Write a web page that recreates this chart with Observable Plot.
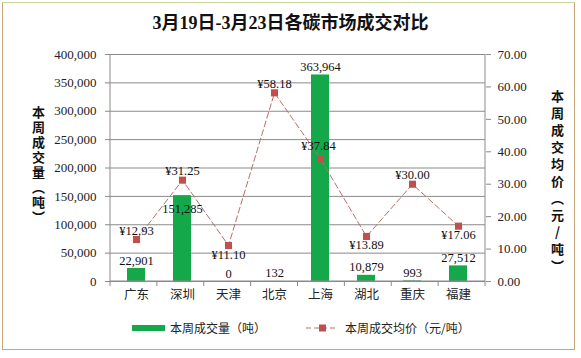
<!DOCTYPE html>
<html><head><meta charset="utf-8">
<script src="https://cdn.jsdelivr.net/npm/d3@7"></script>
<script src="https://cdn.jsdelivr.net/npm/@observablehq/plot@0.6"></script>
<style>
body{margin:0;background:#fff;}
#wrap{position:relative;width:581px;height:358px;overflow:hidden;background:#fff;font-family:"Noto Sans CJK SC",sans-serif;}
#frame{position:absolute;left:2px;top:2px;width:573px;height:348px;border:1.5px solid #c9a678;border-top-color:#c8d59c;box-sizing:border-box;}
#title{position:absolute;left:0;top:8px;width:581px;text-align:center;font:bold 18px "Liberation Serif","Noto Sans CJK SC",serif;color:#111;}
.vlab{position:absolute;writing-mode:vertical-rl;text-orientation:upright;font:bold 13px "Noto Sans CJK SC",sans-serif;color:#111;line-height:13px;}
#plot{position:absolute;left:0;top:40px;}
.leg{position:absolute;font:12px "Noto Sans CJK SC",sans-serif;color:#222;white-space:nowrap;}
</style>
</head><body>
<div id="wrap">
  <div id="frame"></div>
  <div id="title"></div>
  <div id="plot"></div>
  <div class="vlab" id="ylabL" style="left:32px;top:106px;letter-spacing:2px;"></div>
  <div class="vlab" id="ylabR" style="left:551px;top:90px;letter-spacing:4px;"></div>
  <div class="leg" style="left:132px;top:325px;width:33px;height:6px;background:#14a84b;"></div>
  <div class="leg" id="leg1" style="left:170px;top:319px;"></div>
  <svg class="leg" style="left:304px;top:322px;" width="36" height="12">
    <line x1="2" x2="34" y1="6" y2="6" stroke="#b4706c" stroke-width="1" stroke-dasharray="5,3"></line>
    <rect x="15" y="2.5" width="7" height="7" fill="#c0504d"></rect>
  </svg>
  <div class="leg" id="leg2" style="left:345px;top:319px;"></div>
</div>
<script>
const title = "3月19日-3月23日各碳市场成交对比";
const leftLabel = "本周成交量（吨）";
const rightLabel = "本周成交均价（元/吨）";
const legendVolume = "本周成交量（吨）";
const legendPrice = "本周成交均价（元/吨）";
const cats = ["广东","深圳","天津","北京","上海","湖北","重庆","福建"];
const volume = [22901,151285,0,132,363964,10879,993,27512];
const price = [12.93,31.25,11.10,58.18,37.84,13.89,30.00,17.06];
const leftTicks = [0,50000,100000,150000,200000,250000,300000,350000,400000];
const rightTicks = [0,10,20,30,40,50,60,70];
const volMax = 400000, priceMax = 70;

document.getElementById("title").textContent = title;
document.getElementById("ylabL").textContent = leftLabel;
document.getElementById("ylabR").textContent = rightLabel;
document.getElementById("leg1").textContent = legendVolume;
document.getElementById("leg2").textContent = legendPrice;

const k = volMax / priceMax;
const data = cats.map((c, i) => ({cat: c, vol: volume[i], price: price[i], py: price[i] * k}));
const fmtVol = d3.format(",");
const belowPrice = new Set(["天津","湖北","福建"]);
const farAbovePrice = new Set(["上海"]);
const insideBar = new Set(["深圳"]);
const serif = "Liberation Serif";

const frameLines = (index, scales, channels, dim) => {
  const {width, height, marginLeft, marginRight, marginTop, marginBottom} = dim;
  const g = d3.create("svg:g").attr("stroke", "#8a8a8a").attr("fill", "none");
  const y0 = scales.y(0), yTop = scales.y(volMax);
  const xl = marginLeft, xr = width - marginRight;
  g.append("line").attr("x1", xl).attr("x2", xl).attr("y1", yTop).attr("y2", y0);
  g.append("line").attr("x1", xr).attr("x2", xr).attr("y1", yTop).attr("y2", y0);
  g.append("line").attr("x1", xl).attr("x2", xr).attr("y1", y0).attr("y2", y0);
  const step = (xr - xl) / cats.length;
  for (let i = 0; i <= cats.length; i++) {
    const xx = xl + i * step;
    g.append("line").attr("x1", xx).attr("x2", xx).attr("y1", y0).attr("y2", y0 + 5);
  }
  return g.node();
};

const chart = Plot.plot({
  width: 581,
  height: 271,
  marginLeft: 110,
  marginRight: 96,
  marginTop: 14,
  marginBottom: 30,
  style: {fontFamily: serif, fontSize: "13px", background: "transparent"},
  x: {domain: cats, paddingInner: 0.6, paddingOuter: 0.3},
  y: {domain: [0, volMax]},
  marks: [
    Plot.gridY(leftTicks, {stroke: "#8a8a8a", strokeOpacity: 1}),
    Plot.barY(data, {x: "cat", y: "vol", fill: "#14a84b"}),
    Plot.line(data, {x: "cat", y: "py", stroke: "#b4706c", strokeWidth: 1, strokeDasharray: "6,3"}),
    Plot.dot(data, {x: "cat", y: "py", symbol: "square", r: 4, fill: "#c0504d", stroke: "none"}),
    Plot.text(data.filter(d => !insideBar.has(d.cat)), {x: "cat", y: "vol", text: d => fmtVol(d.vol), dy: -8, fontSize: 12.5, fill: "#111"}),
    Plot.text(data.filter(d => insideBar.has(d.cat)), {x: "cat", y: "vol", text: d => fmtVol(d.vol), dy: 13, fontSize: 12.5, fill: "#111"}),
    Plot.text(data.filter(d => !belowPrice.has(d.cat) && !farAbovePrice.has(d.cat)), {x: "cat", y: "py", text: d => "¥" + d.price.toFixed(2), dy: -9, fontSize: 12.5, fill: "#111"}),
    Plot.text(data.filter(d => farAbovePrice.has(d.cat)), {x: "cat", y: "py", text: d => "¥" + d.price.toFixed(2), dy: -13, dx: -2, fontSize: 12.5, fill: "#111"}),
    Plot.text(data.filter(d => belowPrice.has(d.cat)), {x: "cat", y: "py", text: d => "¥" + d.price.toFixed(2), dy: 9, fontSize: 12.5, fill: "#111"}),
    Plot.axisY(leftTicks, {anchor: "left", tickFormat: fmtVol, tickSize: 5, tickPadding: 9, label: null, stroke: "#8a8a8a", fill: "#222", fontSize: 13}),
    Plot.axisY(rightTicks.map(v => v * k), {anchor: "right", tickFormat: d => (d / k).toFixed(2), tickSize: 5, tickPadding: 7, label: null, stroke: "#8a8a8a", fill: "#222", fontSize: 13}),
    Plot.axisX({tickSize: 0, tickPadding: 9, label: null, fontFamily: "Noto Sans CJK SC", fontSize: 12.5, fill: "#222"}),
    frameLines
  ]
});
document.getElementById("plot").appendChild(chart);
</script>
</body></html>
